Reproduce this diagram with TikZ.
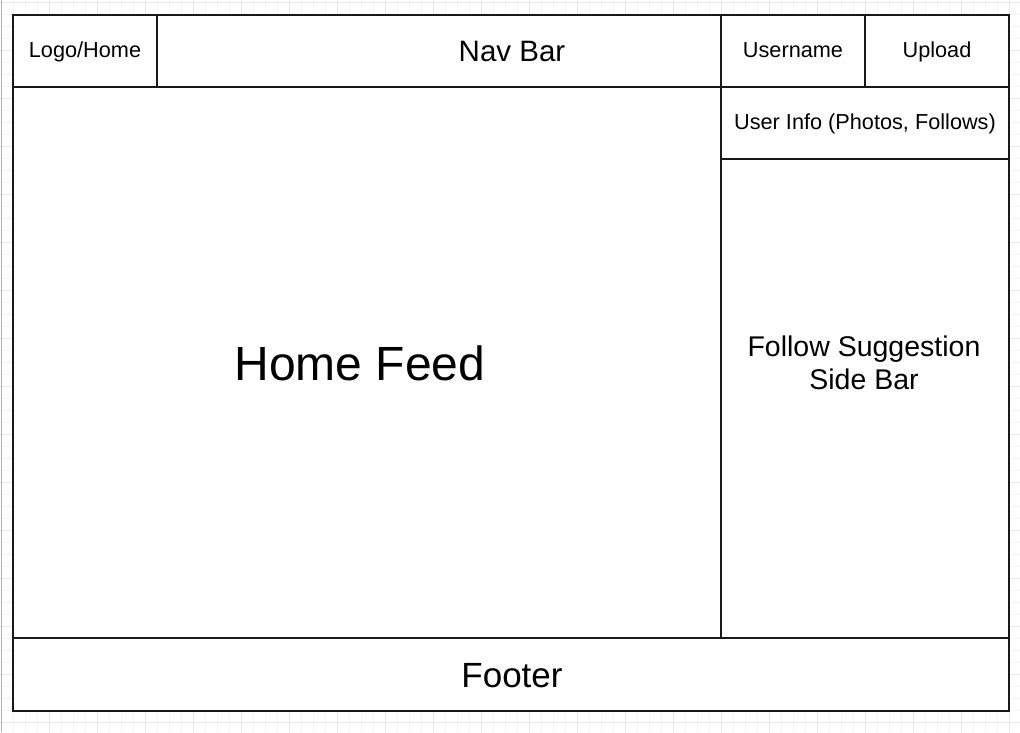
\documentclass[tikz,border=0pt]{standalone}
\usepackage{fontspec}
\setmainfont{Liberation Sans}
\definecolor{gridminor}{HTML}{F4F4F4}
\definecolor{gridmajor}{HTML}{E8E8E8}
\definecolor{edge}{HTML}{1A1A1A}
\tikzset{
  box/.style={draw=edge, line width=1.2pt, fill=white},
  lbl/.style={inner sep=0pt, align=center, text=black, anchor=base},
  small/.style={lbl, font=\fontsize{21.7}{25}\selectfont},
  mid/.style={lbl, font=\fontsize{29.5}{33}\selectfont},
  side/.style={lbl, font=\fontsize{28.5}{33}\selectfont},
  foot/.style={lbl, font=\fontsize{35}{40}\selectfont},
  big/.style={lbl, font=\fontsize{48}{56}\selectfont},
}
\begin{document}
\begin{tikzpicture}[x=1pt,y=-1pt]
\useasboundingbox (0,0) rectangle (1020,732);
\fill[white] (0,0) rectangle (1020,732);
% grid
\foreach \i in {0,...,85} {\draw[gridminor, line width=0.8pt] (1+12*\i,0) -- (1+12*\i,732);}
\foreach \i in {0,...,61} {\draw[gridminor, line width=0.8pt] (0,2+12*\i) -- (1020,2+12*\i);}
\foreach \i in {0,...,21} {\draw[gridmajor, line width=0.8pt] (1+48*\i,0) -- (1+48*\i,732);}
\foreach \i in {0,...,15} {\draw[gridmajor, line width=0.8pt] (0,2+48*\i) -- (1020,2+48*\i);}
\draw[gray!60, line width=1pt] (1.5,0) -- (1.5,732);
% boxes
\draw[box] (13,87) rectangle (721,638);
\draw[box] (721,87) rectangle (1009,638);
\draw[box] (721,87) rectangle (1009,159);
\draw[box] (13,638) rectangle (1009,711);
\draw[box] (13,15) rectangle (157,87);
\draw[box] (157,15) rectangle (721,87);
\draw[box] (721,15) rectangle (865,87);
\draw[box] (865,15) rectangle (1009,87);
% labels
\node[small] (logo) at (85,57.2) {Logo/Home};
\node[mid] (nav) at (512,61.8) {Nav Bar};
\node[small] (user) at (793,57.2) {Username};
\node[small] (upload) at (937,57.2) {Upload};
\node[small] (info) at (865,129.2) {User Info (Photos, Follows)};
\node[big] (feed) at (360,380.2) {Home Feed};
\node[side] (sidebar) at (864,389) {Follow Suggestion\\Side Bar};
\node[foot] (footer) at (512,687.5) {Footer};
\end{tikzpicture}
\end{document}
